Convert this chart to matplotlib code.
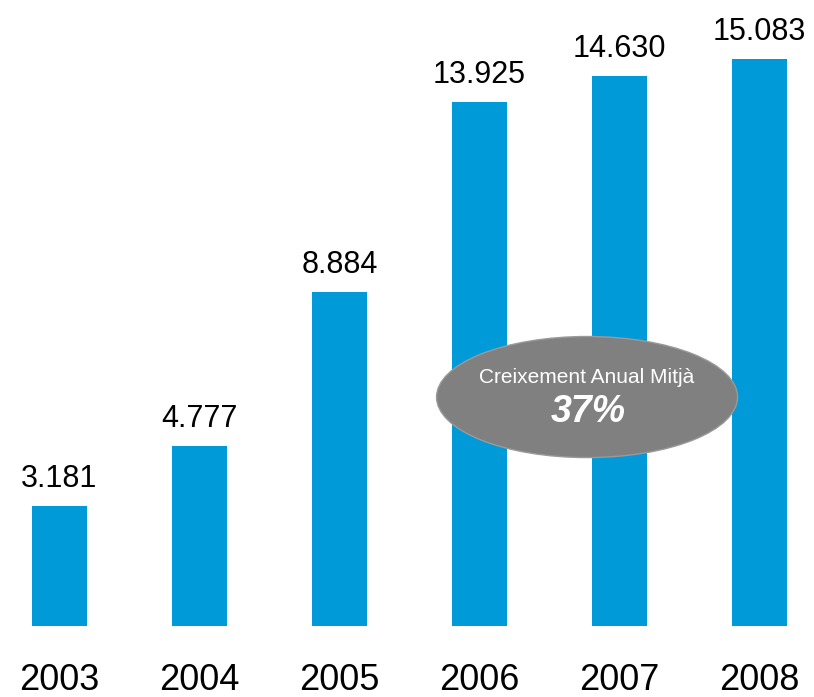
import matplotlib
matplotlib.use('Agg')
import matplotlib.pyplot as plt
from matplotlib.patches import Ellipse

# data
years = ['2003', '2004', '2005', '2006', '2007', '2008']
values = [3.181, 4.777, 8.884, 13.925, 14.630, 15.083]
labels = ['3.181', '4.777', '8.884', '13.925', '14.630', '15.083']
growth_title = 'Creixement Anual Mitjà'
growth_value = '37%'

plt.rcParams['font.family'] = ['Liberation Sans', 'DejaVu Sans']

fig = plt.figure(figsize=(8.14, 6.97), dpi=100)
ax = fig.add_axes([0, 0, 1, 1])
ax.set_xlim(-0.425, 5.389)
ax.set_ylim(-1.888, 16.65)
ax.axis('off')

x = range(len(years))
ax.bar(x, values, width=0.393, color='#009AD8')

for i, (v, lab) in enumerate(zip(values, labels)):
    ax.annotate(lab, (i, v), xytext=(0, 13.7), textcoords='offset points',
                ha='center', va='baseline', fontsize=22, color='black')
    ax.text(i, -1.44, years[i], ha='center', va='center', fontsize=26,
            family=['Liberation Sans Narrow', 'Liberation Sans'], color='black')

# average growth bubble
ax.add_patch(Ellipse((3.768, 6.09), 2.15, 3.22, facecolor='#808080',
                     edgecolor='#9a9a9a', linewidth=1, zorder=3))
ax.text(3.768, 6.6, growth_title, ha='center', va='center', fontsize=15,
        color='white', zorder=4)
ax.text(3.775, 5.7, growth_value, ha='center', va='center', fontsize=27,
        color='white', fontweight='bold', fontstyle='italic', zorder=4)

fig.savefig('out.png', dpi=100)
